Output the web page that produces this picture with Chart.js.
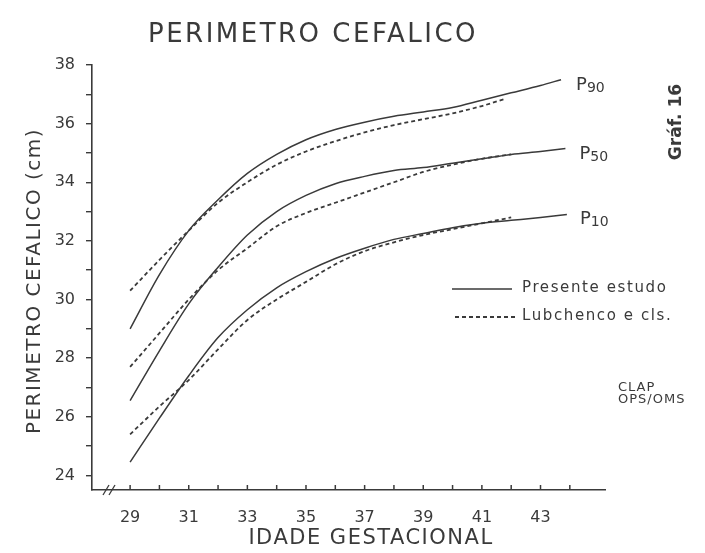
<!DOCTYPE html>
<html>
<head>
<meta charset="utf-8">
<title>Perimetro cefalico</title>
<script src="https://cdn.jsdelivr.net/npm/chart.js@4.4.1/dist/chart.umd.min.js"></script>
<style>
  html, body { margin: 0; padding: 0; background: #fff; }
  #wrap { width: 705px; height: 553px; }
</style>
</head>
<body>
<div id="wrap"><canvas id="headChart"></canvas></div>
<script>
// === DATA ===
// Presente estudo (solid)
const p90Weeks = [29, 30, 31, 32, 33, 34, 35, 36, 37, 38, 39, 40, 41, 42, 43, 43.7];
const p90 = [29.0, 30.85, 32.35, 33.4, 34.3, 34.95, 35.45, 35.8, 36.05, 36.25, 36.4, 36.55, 36.8, 37.05, 37.3, 37.5];
const p50Weeks = [29, 30, 31, 32, 33, 34, 35, 36, 37, 38, 39, 40, 41, 42, 43, 43.85];
const p50 = [26.55, 28.25, 29.85, 31.1, 32.2, 33.0, 33.55, 33.95, 34.2, 34.4, 34.5, 34.65, 34.8, 34.95, 35.05, 35.15];
const p10Weeks = [29, 30, 31, 32, 33, 34, 35, 36, 37, 38, 39, 40, 41, 42, 43, 43.9];
const p10 = [24.45, 25.95, 27.4, 28.7, 29.65, 30.4, 30.95, 31.4, 31.75, 32.05, 32.25, 32.45, 32.6, 32.7, 32.8, 32.9];

// Lubchenco e cls. (dashed)
const l90Weeks = [29, 30, 31, 32, 33, 34, 35, 36, 37, 38, 39, 40, 41, 41.8];
const l90 = [30.3, 31.35, 32.35, 33.3, 34.0, 34.6, 35.05, 35.4, 35.7, 35.95, 36.15, 36.35, 36.6, 36.85];
const l50Weeks = [29, 30, 31, 32, 33, 34, 35, 36, 37, 38, 39, 40, 41, 42];
const l50 = [27.7, 28.85, 30.0, 31.0, 31.75, 32.5, 32.95, 33.3, 33.65, 34.0, 34.35, 34.6, 34.8, 34.95];
const l10Weeks = [29, 30, 31, 32, 33, 34, 35, 36, 37, 38, 39, 40, 41, 42];
const l10 = [25.4, 26.35, 27.25, 28.3, 29.3, 30.0, 30.6, 31.2, 31.65, 31.95, 32.2, 32.4, 32.6, 32.8];

// Axis ticks
const xTicks = [29, 30, 31, 32, 33, 34, 35, 36, 37, 38, 39, 40, 41, 42, 43, 44];
const xLabelled = [29, 31, 33, 35, 37, 39, 41, 43];
const yTicks = [24, 25, 26, 27, 28, 29, 30, 31, 32, 33, 34, 35, 36, 37, 38];
const yLabelled = [24, 26, 28, 30, 32, 34, 36, 38];

const percentileNames = ['90', '50', '10'];
const legendNames = ['Presente estudo', 'Lubchenco e cls.'];

const ink = '#3a3a3a';
const FONT = '"DejaVu Sans", "Liberation Sans", sans-serif';

const toPoints = (weeks, vals) => weeks.map((w, i) => ({ x: w, y: vals[i] }));

function curve(weeks, vals, dashed) {
    return {
        data: toPoints(weeks, vals),
        borderColor: ink,
        borderWidth: dashed ? 1.8 : 1.5,
        borderDash: dashed ? [4, 3] : [],
        pointRadius: 0,
        fill: false,
        cubicInterpolationMode: 'monotone'
    };
}

// extra texts, legend, inward x ticks
const extras = {
    id: 'extras',
    afterDraw(chart) {
        const ctx = chart.ctx;
        const xs = chart.scales.x, ys = chart.scales.y;
        const area = chart.chartArea;
        ctx.save();
        ctx.strokeStyle = ink;
        ctx.fillStyle = ink;

        // x ticks pointing up
        ctx.lineWidth = 1.5;
        xTicks.forEach(w => {
            const px = xs.getPixelForValue(w);
            ctx.beginPath();
            ctx.moveTo(px, area.bottom);
            ctx.lineTo(px, area.bottom - 5);
            ctx.stroke();
        });

        // axis break mark
        ctx.lineWidth = 1.3;
        [106, 112].forEach(bx => {
            ctx.beginPath();
            ctx.moveTo(bx - 3, area.bottom + 5);
            ctx.lineTo(bx + 3, area.bottom - 5);
            ctx.stroke();
        });

        // title
        ctx.font = '26px ' + FONT;
        ctx.letterSpacing = '2.5px';
        ctx.textAlign = 'center';
        ctx.textBaseline = 'alphabetic';
        ctx.fillText('PERIMETRO CEFALICO', 313, 42);

        // x title
        ctx.font = '21px ' + FONT;
        ctx.letterSpacing = '1.5px';
        ctx.textBaseline = 'middle';
        ctx.fillText('IDADE GESTACIONAL', 371, 539);

        // y title
        ctx.save();
        ctx.translate(35, 281);
        ctx.rotate(-Math.PI / 2);
        ctx.font = '20px ' + FONT;
        ctx.letterSpacing = '1.5px';
        ctx.fillText('PERIMETRO CEFALICO (cm)', 0, 0);
        ctx.restore();
        ctx.letterSpacing = '0px';

        // percentile labels at end of solid curves
        const ends = [[p90Weeks, p90], [p50Weeks, p50], [p10Weeks, p10]];
        ctx.textAlign = 'left';
        ctx.textBaseline = 'alphabetic';
        ends.forEach(([wk, vals], i) => {
            const n = wk.length - 1;
            const px = xs.getPixelForValue(wk[n]) + 15 - i;
            const py = ys.getPixelForValue(vals[n]) + 10;
            ctx.font = '18px ' + FONT;
            ctx.fillText('P', px, py);
            const pw = ctx.measureText('P').width;
            ctx.font = '14px ' + FONT;
            ctx.fillText(percentileNames[i], px + pw, py + 2);
        });

        // Gráf. 16
        ctx.save();
        ctx.translate(677, 122);
        ctx.rotate(-Math.PI / 2);
        ctx.font = 'bold 17px ' + FONT;
        ctx.textAlign = 'center';
        ctx.textBaseline = 'middle';
        ctx.fillText('Gráf. 16', 0, 0);
        ctx.restore();

        // legend
        ctx.lineWidth = 1.5;
        ctx.beginPath();
        ctx.moveTo(452, 289);
        ctx.lineTo(512, 289);
        ctx.stroke();
        ctx.lineWidth = 1.8;
        ctx.setLineDash([4, 3]);
        ctx.beginPath();
        ctx.moveTo(455, 317);
        ctx.lineTo(518, 317);
        ctx.stroke();
        ctx.setLineDash([]);
        ctx.font = '15px ' + FONT;
        ctx.letterSpacing = '1.6px';
        ctx.textBaseline = 'middle';
        ctx.fillText(legendNames[0], 522, 288);
        ctx.fillText(legendNames[1], 522, 316);

        // CLAP OPS/OMS
        ctx.font = '13px ' + FONT;
        ctx.letterSpacing = '1px';
        ctx.fillText('CLAP', 618, 388);
        ctx.fillText('OPS/OMS', 618, 400);
        ctx.restore();
    }
};

document.addEventListener('DOMContentLoaded', () => {
    const ctx = document.getElementById('headChart').getContext('2d');

    new Chart(ctx, {
        type: 'line',
        data: {
            datasets: [
                curve(p90Weeks, p90, false),
                curve(p50Weeks, p50, false),
                curve(p10Weeks, p10, false),
                curve(l90Weeks, l90, true),
                curve(l50Weeks, l50, true),
                curve(l10Weeks, l10, true)
            ]
        },
        options: {
            responsive: true,
            maintainAspectRatio: false,
            animation: false,
            layout: { padding: { top: 65, right: 100, left: 0, bottom: 0 } },
            plugins: {
                legend: { display: false },
                tooltip: { enabled: false }
            },
            scales: {
                x: {
                    type: 'linear',
                    min: 27.7,
                    max: 45.2,
                    afterBuildTicks: s => { s.ticks = xTicks.map(v => ({ value: v })); },
                    afterFit: s => { s.height = 63; },
                    grid: { drawOnChartArea: false, drawTicks: false },
                    border: { color: ink, width: 1.6 },
                    ticks: {
                        autoSkip: false,
                        maxRotation: 0,
                        padding: 18,
                        color: ink,
                        font: { family: FONT, size: 16 },
                        callback: v => xLabelled.includes(v) ? String(v) : ''
                    }
                },
                y: {
                    type: 'linear',
                    min: 23.5,
                    max: 38,
                    afterBuildTicks: s => { s.ticks = yTicks.map(v => ({ value: v })); },
                    afterFit: s => { s.width = 92; },
                    grid: { drawOnChartArea: false, tickLength: 6, color: ink, lineWidth: 1.4 },
                    border: { color: ink, width: 1.6 },
                    ticks: {
                        padding: 11,
                        color: ink,
                        font: { family: FONT, size: 16 },
                        callback: v => yLabelled.includes(v) ? String(v) : ''
                    }
                }
            }
        },
        plugins: [extras]
    });
});
</script>
</body>
</html>
